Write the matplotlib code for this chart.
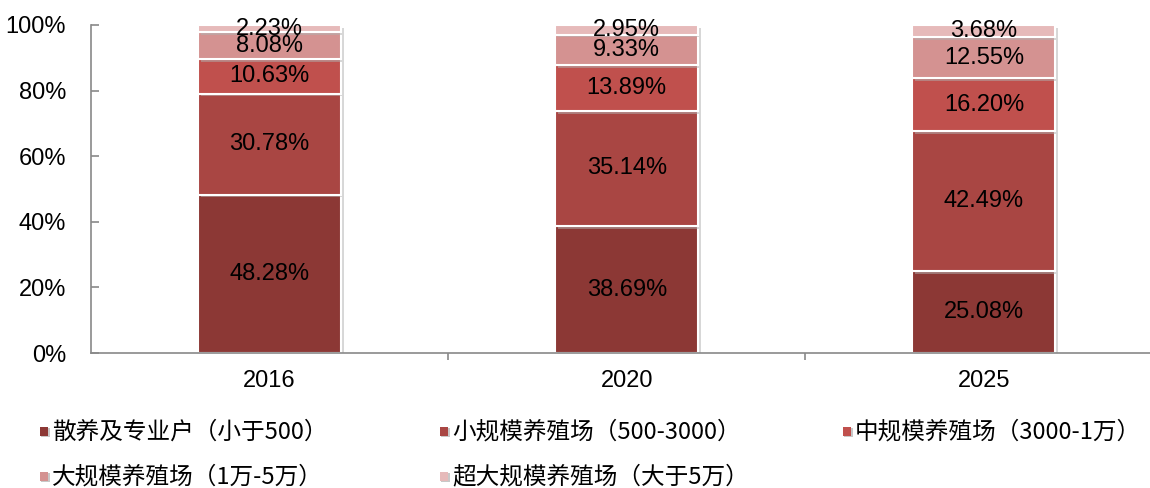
import matplotlib.pyplot as plt
from matplotlib.patches import Rectangle
import matplotlib.patheffects as pe

plt.rcParams['font.family'] = ['Liberation Sans', 'Noto Sans CJK SC', 'DejaVu Sans']

years = ['2016', '2020', '2025']
series = ['散养及专业户（小于500）', '小规模养殖场（500-3000）', '中规模养殖场（3000-1万）',
          '大规模养殖场（1万-5万）', '超大规模养殖场（大于5万）']
values = [
    [48.28, 38.69, 25.08],
    [30.78, 35.14, 42.49],
    [10.63, 13.89, 16.20],
    [8.08, 9.33, 12.55],
    [2.23, 2.95, 3.68],
]
colors = ['#8C3835', '#A94643', '#C0504D', '#D49291', '#E6BABA']

fig = plt.figure(figsize=(11.5, 4.88), dpi=100)
ax = fig.add_axes([0.0791, 0.2766, 0.9209, 0.6722])

x = list(range(len(years)))
bottom = [0, 0, 0]
shadow = [pe.SimplePatchShadow(offset=(2, -2), shadow_rgbFace='#b0b0b0', alpha=0.5), pe.Normal()]
for vals, col in zip(values, colors):
    bars = ax.bar(x, vals, 0.4, bottom=bottom, color=col, edgecolor='white', linewidth=1.5,
                  path_effects=shadow)
    for xi, v, b in zip(x, vals, bottom):
        ax.text(xi, b + v / 2, f'{v:.2f}%', ha='center', va='center', fontsize=17, color='black')
    bottom = [b + v for b, v in zip(bottom, vals)]

ax.set_xlim(-0.5, 2.465)
ax.set_ylim(0, 100)
ax.set_yticks([0, 20, 40, 60, 80, 100])
ax.set_yticklabels([f'{t}%' for t in range(0, 101, 20)], fontsize=17)
ax.set_xticks(x)
ax.set_xticklabels(years, fontsize=17)
ax.set_xticks([0.5, 1.5], minor=True)
ax.tick_params(axis='x', which='major', length=0, pad=12)
ax.tick_params(axis='x', which='minor', length=5, color='#898989', width=1.2)
ax.tick_params(axis='y', direction='in', length=6, color='#898989', width=1.2, pad=18)
for s in ['top', 'right']:
    ax.spines[s].set_visible(False)
for s in ['left', 'bottom']:
    ax.spines[s].set_color('#898989')
    ax.spines[s].set_linewidth(1.2)

# legend, drawn by hand to keep the fixed column layout
leg_pos = [(40, 432), (440, 432), (843, 432), (40, 477), (440, 477)]
W, H = 1150, 488
for (px, py), name, col in zip(leg_pos, series, colors):
    fig.patches.append(Rectangle(((px + 1) / W, (H - py - 5) / H), 9 / W, 9 / H,
                                 transform=fig.transFigure, facecolor='#c8c8c8', edgecolor='none'))
    fig.patches.append(Rectangle((px / W, (H - py - 4) / H), 8 / W, 9 / H,
                                 transform=fig.transFigure, facecolor=col, edgecolor='none'))
    fig.text((px + 12) / W, (H - py) / H, name, fontsize=17, va='center', ha='left',
             family=['Noto Sans CJK SC', 'DejaVu Sans'])

fig.savefig('out.png', dpi=100)
